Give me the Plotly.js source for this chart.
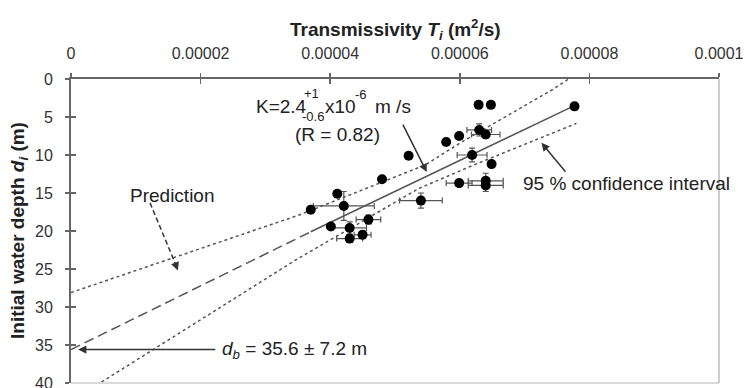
<!DOCTYPE html>
<html>
<head>
<meta charset="utf-8">
<script src="https://cdn.plot.ly/plotly-3.0.1.min.js"></script>
<style>html,body{margin:0;padding:0;background:#fff;}#chart{width:745px;height:388px;}</style>
</head>
<body>
<div id="chart"></div>
<script>
// Transmissivity values in units of 1e-6 m^2/s, depths in m
const plainT = [62.9, 64.8, 77.7, 59.9, 57.9, 52.1, 64.9, 48.0, 41.1, 37.0, 40.1];
const plainD = [3.4, 3.4, 3.6, 7.5, 8.3, 10.1, 11.2, 13.2, 15.1, 17.2, 19.4];

const errT  = [63.0, 64.0, 61.9, 59.9, 64.0, 64.0, 54.0, 42.1, 45.9, 43.0, 43.0, 45.0];
const errD  = [6.7, 7.3, 10.0, 13.7, 13.4, 14.0, 16.0, 16.7, 18.5, 19.6, 21.0, 20.5];
const errTx = [1.9, 2.2, 2.3, 2.0, 2.7, 2.7, 3.3, 4.7, 1.9, 2.6, 2.0, 1.3];
const errDy = [0.8, 0.5, 0.9, 0.4, 1.0, 0.8, 1.0, 1.9, 0.6, 0.8, 0.5, 0.5];

const fitT = [37.0, 77.7];
const fitD = [20.1, 3.5];
const predT = [0, 37.0];
const predD = [35.6, 20.1];

const upperT = [0, 35.2, 54.7, 59.9, 74.2, 76.8];
const upperD = [28.1, 17.9, 11.3, 8.5, 1.45, 0];
const lowerT = [0, 4.5, 29.1, 34.7, 53.7, 62.2, 78.0];
const lowerD = [42.4, 40.0, 26.9, 23.8, 14.4, 11.3, 5.84];

const xTickVals = [0, 20, 40, 60, 80, 100];
const xTickText = ['0', '0.00002', '0.00004', '0.00006', '0.00008', '0.0001'];
const yTickVals = [0, 5, 10, 15, 20, 25, 30, 35, 40];

const lineCol = '#555';
const textCol = '#222';
const FONT = 'Liberation Sans, Arial, sans-serif';
const AF = 19;   // annotation font size
const SF = 13;   // super/subscript size

const traces = [
  {x: upperT, y: upperD, mode: 'lines', line: {color: lineCol, width: 1.5, dash: 'dot'}, hoverinfo: 'skip'},
  {x: lowerT, y: lowerD, mode: 'lines', line: {color: lineCol, width: 1.5, dash: 'dot'}, hoverinfo: 'skip'},
  {x: predT, y: predD, mode: 'lines', line: {color: lineCol, width: 1.5, dash: '10px,5px'}, hoverinfo: 'skip'},
  {x: fitT, y: fitD, mode: 'lines', line: {color: lineCol, width: 1.5}, hoverinfo: 'skip'},
  {x: errT, y: errD, mode: 'markers', marker: {color: '#000', size: 10},
   error_x: {type: 'data', array: errTx, visible: true, color: '#555', thickness: 1.2, width: 3},
   error_y: {type: 'data', array: errDy, visible: true, color: '#555', thickness: 1.2, width: 3}},
  {x: plainT, y: plainD, mode: 'markers', marker: {color: '#000', size: 10}}
];

const ann = (x, y, text, opts) => Object.assign({x: x, y: y, xref: 'x', yref: 'y', text: text, showarrow: false,
  font: {family: FONT, size: AF, color: textCol}}, opts || {});

const arrow = (x, y, ax, ay, opts) => Object.assign({x: x, y: y, ax: ax, ay: ay, xref: 'x', yref: 'y', axref: 'x', ayref: 'y',
  text: '', showarrow: true, arrowhead: 2, arrowsize: 1.1, arrowwidth: 1.5, arrowcolor: '#333'}, opts || {});

const annotations = [
  // axis titles
  {xref: 'paper', yref: 'paper', x: 0.5, y: 1, showarrow: false, yanchor: 'middle',
   text: '<b>Transmissivity <i>T</i><sub><i>i</i></sub> (m<sup>2</sup>/s)</b>',
   font: {family: FONT, size: 19, color: textCol}, yshift: 50},
  {xref: 'paper', yref: 'paper', x: 0, y: 0.5, xanchor: 'center', showarrow: false, textangle: -90,
   text: '<b>Initial water depth <i>d</i><sub><i>i</i></sub> (m)</b>',
   font: {family: FONT, size: 19, color: textCol}, xshift: -52},
  // K label
  ann(28.3, 3.56, 'K=2.4', {xanchor: 'left'}),
  ann(35.6, 1.9, '+1', {xanchor: 'left', font: {family: FONT, size: SF, color: textCol}}),
  ann(35.3, 4.95, '-0.6', {xanchor: 'left', font: {family: FONT, size: SF, color: textCol}}),
  ann(38.9, 3.56, 'x10', {xanchor: 'left'}),
  ann(43.5, 2.1, '-6', {xanchor: 'left', font: {family: FONT, size: SF, color: textCol}}),
  ann(46.6, 3.56, 'm /s', {xanchor: 'left'}),
  ann(41.1, 7.25, '(R = 0.82)'),
  arrow(54.9, 12.25, 51.1, 5.8),
  // confidence
  ann(69.5, 13.8, '95 % confidence interval', {xanchor: 'left'}),
  arrow(72.6, 8.4, 76.5, 12.4),
  // prediction
  ann(15.7, 15.3, 'Prediction'),
  arrow(16.5, 25.2, 16.1, 24.3),
  // db
  ann(23.0, 35.6, '<i>d</i><sub><i>b</i></sub> = 35.6 ± 7.2 m', {xanchor: 'left'}),
  arrow(1.1, 35.6, 22.5, 35.6)
];

const shapes = [
  {type: 'line', xref: 'x', yref: 'y', x0: 12.2, y0: 16.3, x1: 16.1, y1: 24.3, line: {color: '#333', width: 1.5, dash: '5px,3px'}},
  {type: 'line', xref: 'paper', yref: 'paper', x0: 1, y0: 0, x1: 1, y1: 1, line: {color: '#bbb', width: 1.5}},
  {type: 'line', xref: 'paper', yref: 'paper', x0: 0, y0: 0, x1: 1, y1: 0, line: {color: '#ccc', width: 1.5}}
];

const layout = {
  width: 745, height: 388,
  margin: {l: 71, r: 26, t: 79, b: 5},
  paper_bgcolor: '#fff', plot_bgcolor: '#fff',
  showlegend: false, hovermode: false,
  font: {family: FONT, color: '#333', size: 16},
  xaxis: {side: 'top', range: [0, 100], tickvals: xTickVals, ticktext: xTickText,
    showgrid: false, zeroline: false, showline: true, linecolor: '#666', linewidth: 2,
    ticks: 'outside', ticklen: 4, tickcolor: '#666', tickwidth: 1.5, ticklabelstandoff: 8,
    ticklabeloverflow: 'allow', tickfont: {family: FONT, size: 16, color: '#333'}},
  xaxis2: {overlaying: 'x', side: 'top', range: [0, 100], tickvals: xTickVals, showticklabels: false,
    showgrid: false, zeroline: false, showline: false, ticks: 'inside', ticklen: 5, tickcolor: '#666', tickwidth: 1.5},
  yaxis: {range: [40, 0], tickvals: yTickVals, showgrid: false, zeroline: false, showline: true,
    linecolor: '#666', linewidth: 2, ticks: 'outside', ticklen: 4, tickcolor: '#666', tickwidth: 1.5,
    ticklabelstandoff: 9, ticklabeloverflow: 'allow', tickfont: {family: FONT, size: 16, color: '#333'}},
  yaxis2: {overlaying: 'y', side: 'left', range: [40, 0], tickvals: yTickVals, showticklabels: false,
    showgrid: false, zeroline: false, showline: false, ticks: 'inside', ticklen: 5, tickcolor: '#666', tickwidth: 1.5},
  annotations: annotations,
  shapes: shapes
};

// dummy trace to activate overlay axes for crossing ticks
traces.push({x: [null], y: [null], xaxis: 'x2', yaxis: 'y2', mode: 'markers', hoverinfo: 'skip'});

Plotly.newPlot('chart', traces, layout, {displayModeBar: false, staticPlot: true});
</script>
</body>
</html>
